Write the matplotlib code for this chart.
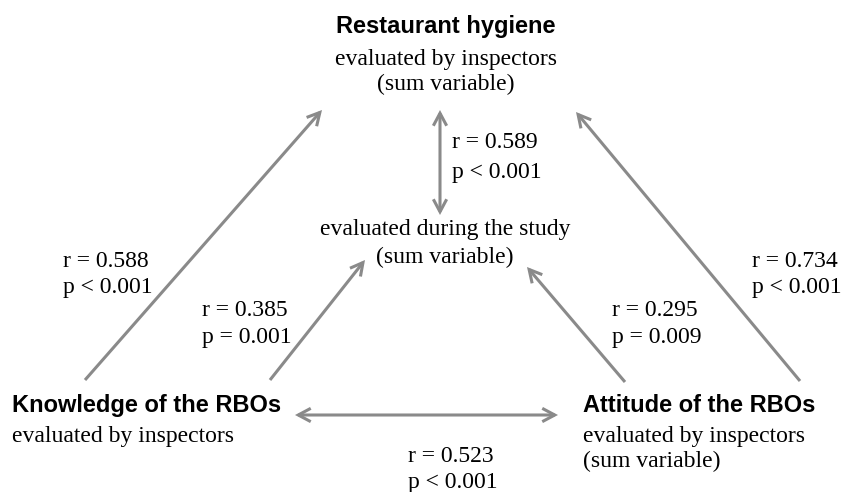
import matplotlib.pyplot as plt
from matplotlib.patches import FancyArrowPatch

# Correlations between the measures
pairs = ['hygiene (insp) - hygiene (study)', 'knowledge - hygiene (insp)',
         'knowledge - hygiene (study)', 'attitude - hygiene (study)',
         'attitude - hygiene (insp)', 'knowledge - attitude']
r_values = [0.589, 0.588, 0.385, 0.295, 0.734, 0.523]
p_labels = ['p < 0.001', 'p < 0.001', 'p = 0.001', 'p = 0.009', 'p < 0.001', 'p < 0.001']

# Box titles and sub lines
titles = ['Restaurant hygiene', 'Knowledge of the RBOs', 'Attitude of the RBOs']
subtitles = [['evaluated by inspectors', '(sum variable)'],
             ['evaluated by inspectors'],
             ['evaluated by inspectors', '(sum variable)']]
study_lines = ['evaluated during the study', '(sum variable)']

W, H = 843, 492
fig = plt.figure(figsize=(W / 100, H / 100), dpi=100)
ax = fig.add_axes([0, 0, 1, 1])
ax.set_xlim(0, W)
ax.set_ylim(H, 0)
ax.axis('off')

bold = dict(family=['Liberation Sans', 'DejaVu Sans'], fontweight='bold', fontsize=17, color='black')
serif = dict(family=['Liberation Serif', 'DejaVu Serif'], fontsize=17, color='black')

# layout: (x, anchor, title baseline, sub-line baselines)
node_pos = [(446, 'center', 33, [65, 90]),
            (12, 'left', 412, [442]),
            (583, 'left', 412, [442, 467])]
for title, subs, (x, ha, yb, ys) in zip(titles, subtitles, node_pos):
    ax.text(x, yb, title, ha=ha, va='baseline', **bold)
    for s, y in zip(subs, ys):
        ax.text(x, y, s, ha=ha, va='baseline', **serif)

for s, y in zip(study_lines, [235, 263]):
    ax.text(445, y, s, ha='center', va='baseline', **serif)

# arrows: start, end, two-headed?
arrows = [((440, 110), (440, 215), True),
          ((85, 380), (322, 110), False),
          ((270, 380), (365, 260), False),
          ((625, 382), (527, 267), False),
          ((800, 381), (576, 112), False),
          ((295, 415), (558, 415), True)]
for a, b, both in arrows:
    style = '<->' if both else '->'
    style += ',head_length=0.75,head_width=0.4'
    arr = FancyArrowPatch(a, b, arrowstyle=style, mutation_scale=12,
                          color='#8a8a8a', lw=2.2, shrinkA=0, shrinkB=0,
                          joinstyle='miter', capstyle='butt')
    ax.add_patch(arr)

# correlation labels: left x, r baseline, p baseline
label_pos = [(452, 148, 178), (63, 267, 293), (202, 316, 343),
             (612, 316, 343), (752, 267, 293), (408, 462, 488)]
for r, p, (x, yr, yp) in zip(r_values, p_labels, label_pos):
    ax.text(x, yr, f'r = {r:.3f}', ha='left', va='baseline', **serif)
    ax.text(x, yp, p, ha='left', va='baseline', **serif)

fig.savefig('out.png', dpi=100)
